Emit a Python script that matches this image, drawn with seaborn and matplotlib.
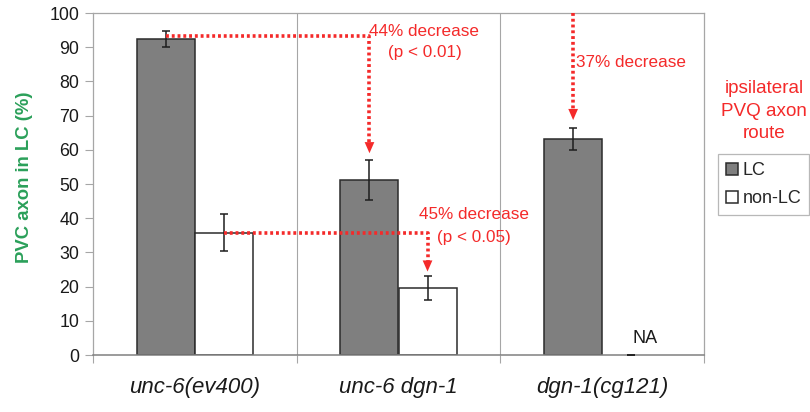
import numpy as np
import pandas as pd
import matplotlib
matplotlib.use("Agg")
import matplotlib.pyplot as plt
import seaborn as sns

# data
genotypes = ["unc-6(ev400)", "unc-6 dgn-1", "dgn-1(cg121)"]
routes = ["LC", "non-LC"]
lc_values = [92.4, 51.2, 63.2]
lc_errors = [2.2, 5.8, 3.3]
nonlc_values = [35.8, 19.6, 0.0]
nonlc_errors = [5.4, 3.4, 0.0]
yticks = list(range(0, 101, 10))

red = "#f42a2a"
green = "#2ba05a"
grid_gray = "#a6a6a6"

df = pd.DataFrame({
	"genotype": genotypes * 2,
	"route": ["LC"] * 3 + ["non-LC"] * 3,
	"value": lc_values + nonlc_values,
	"err": lc_errors + nonlc_errors,
})

sns.set_style("white")
plt.rcParams["font.family"] = ["Liberation Sans", "DejaVu Sans"]

fig = plt.figure(figsize=(8.1, 4.12), dpi=100)
ax = fig.add_axes([93 / 810, 57 / 412, 611 / 810, 342 / 412])

sns.barplot(data=df, x="genotype", y="value", hue="route", order=genotypes, hue_order=routes,
			palette={"LC": "#7f7f7f", "non-LC": "white"}, saturation=1, width=0.57, gap=0,
			edgecolor="#2b2b2b", linewidth=1.1, errorbar=None, ax=ax)

# error bars on top of the bars
for cont, vals, errs in zip(ax.containers, [lc_values, nonlc_values], [lc_errors, nonlc_errors]):
	xs = [p.get_x() + p.get_width() / 2 for p in cont]
	ax.errorbar(xs, vals, yerr=errs, fmt="none", ecolor="#1e1e1e", elinewidth=1.1, capsize=3, capthick=1.1, zorder=4)
	for p in cont:
		if p.get_height() == 0:
			p.set_linewidth(0)

lc_x = [p.get_x() + p.get_width() / 2 for p in ax.containers[0]]
nl_x = [p.get_x() + p.get_width() / 2 for p in ax.containers[1]]

dot = dict(color=red, lw=2.6, ls=(0, (0.8, 0.8)), zorder=5, solid_capstyle="butt")
head = dict(arrowstyle="-|>,head_length=0.8,head_width=0.35", color=red, lw=0, shrinkA=0, shrinkB=0)

def arrow_to(x, tip):
	ax.annotate("", xy=(x, tip), xytext=(x, tip + 3.2), arrowprops=head, zorder=6)

# 44% decrease
y0 = lc_values[0] + 0.9
tip = lc_values[1] + lc_errors[1] + 2.0
ax.plot([lc_x[0], lc_x[1], lc_x[1]], [y0, y0, tip + 2.5], **dot)
arrow_to(lc_x[1], tip)
ax.text(lc_x[1] + 0.27, 94.7, "44% decrease", color=red, fontsize=12.3, ha="center", va="center")
ax.text(lc_x[1] + 0.27, 88.5, "(p < 0.01)", color=red, fontsize=12.3, ha="center", va="center")

# 45% decrease
y0 = nonlc_values[0]
tip = nonlc_values[1] + nonlc_errors[1] + 1.4
ax.plot([nl_x[0], nl_x[1], nl_x[1]], [y0, y0, tip + 2.5], **dot)
arrow_to(nl_x[1], tip)
ax.text(nl_x[1] + 0.226, 41.2, "45% decrease", color=red, fontsize=12.3, ha="center", va="center")
ax.text(nl_x[1] + 0.226, 34.5, "(p < 0.05)", color=red, fontsize=12.3, ha="center", va="center")

# 37% decrease
tip = lc_values[2] + lc_errors[2] + 2.2
ax.plot([lc_x[2], lc_x[2]], [100, tip + 2.5], **dot)
arrow_to(lc_x[2], tip)
ax.text(lc_x[2] + 0.015, 85.4, "37% decrease", color=red, fontsize=12.3, ha="left", va="center")

ax.text(nl_x[2] + 0.07, 2.4, "NA", fontsize=13, ha="center", va="bottom", color="#1a1a1a")

# axes styling
ax.set_ylim(0, 100)
ax.set_xlim(-0.5, 2.5)
ax.set_yticks(yticks)
ax.set_xticks(range(len(genotypes)))
ax.set_xticklabels(genotypes, fontsize=16, style="italic")
ax.set_xticks([-0.5, 0.5, 1.5, 2.5], minor=True)
ax.tick_params(axis="x", which="major", length=0, pad=16, colors="#1a1a1a")
ax.tick_params(axis="x", which="minor", length=6, width=0.8, color=grid_gray, direction="out", bottom=True)
ax.tick_params(axis="y", length=6, width=0.8, color=grid_gray, direction="out", left=True,
			   labelsize=12.8, labelcolor="#1a1a1a", pad=4)
for x in [0.5, 1.5]:
	ax.axvline(x, color=grid_gray, lw=0.8, zorder=0)
for side in ["left", "top", "right"]:
	ax.spines[side].set_color(grid_gray)
	ax.spines[side].set_linewidth(0.9)
ax.spines["bottom"].set_color("#808080")
ax.spines["bottom"].set_linewidth(1.1)

ax.set_xlabel("")
ax.set_ylabel("PVC axon in LC (%)", color=green, fontsize=13.3, fontweight="bold")
ax.yaxis.set_label_coords(-0.098, 0.52)

sns.move_legend(ax, "upper left", bbox_to_anchor=(718 / 810, 1 - 154 / 412), bbox_transform=fig.transFigure,
				title=None, frameon=True, fontsize=13, handlelength=0.65, handleheight=0.65,
				handletextpad=0.25, labelspacing=0.6, borderpad=0.45, borderaxespad=0, fancybox=False)
leg = ax.get_legend()
leg.get_frame().set_edgecolor(grid_gray)
leg.get_frame().set_linewidth(0.9)

fig.text(764 / 810, 1 - 111 / 412, "ipsilateral\nPVQ axon\nroute", color=red, fontsize=13.6,
		 ha="center", va="center", linespacing=1.45)

fig.savefig("out.png", dpi=100, facecolor="white")
